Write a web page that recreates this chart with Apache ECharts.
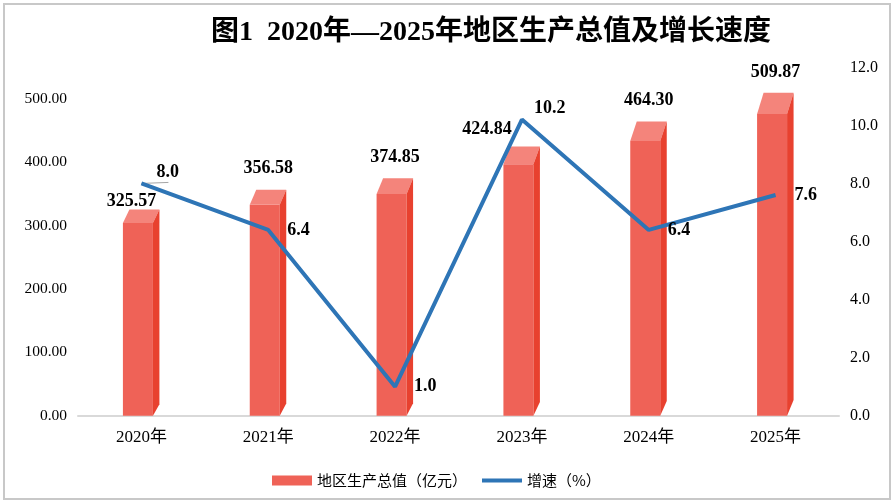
<!DOCTYPE html>
<html>
<head>
<meta charset="utf-8">
<script src="https://cdn.jsdelivr.net/npm/echarts@6/dist/echarts.min.js"></script>
<style>
html,body{margin:0;padding:0;background:#fff;}
#chart{width:895px;height:504px;}
</style>
</head>
<body>
<div id="chart"></div>
<script>
// ---- data ----
const categories = ['2020年', '2021年', '2022年', '2023年', '2024年', '2025年'];
const gdpValues = [325.57, 356.58, 374.85, 424.84, 464.30, 509.87];
const growthValues = [8.0, 6.4, 1.0, 10.2, 6.4, 7.6];
const leftTicks = [0, 100, 200, 300, 400, 500];
const rightTicks = [0, 2, 4, 6, 8, 10, 12];
const titleText = '图1  2020年—2025年地区生产总值及增长速度';
const gdpName = '地区生产总值（亿元）';
const growthName = '增速（%）';

// ---- styling ----
const SERIF = "'Liberation Serif','Noto Sans CJK SC',serif";
const FRONT = '#ef6257', TOP = '#f4847b', SIDE = '#e8412f';
const LINE = '#2e75b6';
const barLabelShift = [[-10, -8], [0, -21], [0, -21], [-35, -17], [0, -21], [0, -20]];

const chart = echarts.init(document.getElementById('chart'));

const option = {
  backgroundColor: '#fff',
  animation: false,
  graphic: [{
    type: 'rect', silent: true, z: -1,
    shape: { x: 4, y: 4, width: 886, height: 495 },
    style: { fill: 'none', stroke: '#c8c8c8', lineWidth: 2 }
  }],
  title: {
    text: titleText,
    left: 486, top: 14, textAlign: 'center',
    textStyle: { fontFamily: SERIF, fontWeight: 'bold', fontSize: 28, color: '#000' }
  },
  legend: {
    left: 267, top: 468,
    itemWidth: 40, itemHeight: 10, itemGap: 13,
    textStyle: { fontFamily: "'Noto Sans CJK SC',sans-serif", fontSize: 15, color: '#000' },
    data: [
      { name: gdpName, icon: 'rect', itemStyle: { color: FRONT } },
      { name: growthName, lineStyle: { width: 4, color: LINE } }
    ]
  },
  grid: { left: 78, right: 56, top: 67.3, bottom: 88.3, containLabel: false },
  xAxis: {
    type: 'category', data: categories,
    axisLine: { lineStyle: { color: '#d9d9d9', width: 2 } },
    axisTick: { show: false },
    axisLabel: { fontFamily: SERIF, fontSize: 17, color: '#000', margin: 13 }
  },
  yAxis: [{
    type: 'value', min: leftTicks[0], max: 550, interval: 100,
    axisLine: { show: false }, axisTick: { show: false }, splitLine: { show: false },
    axisLabel: { showMaxLabel: false, fontFamily: SERIF, fontSize: 15.5, color: '#000', margin: 11,
      formatter: v => v.toFixed(2) }
  }, {
    type: 'value', min: rightTicks[0], max: rightTicks[rightTicks.length - 1], interval: 2,
    axisLine: { show: false }, axisTick: { show: false }, splitLine: { show: false },
    axisLabel: { fontFamily: SERIF, fontSize: 16, color: '#000', margin: 11,
      formatter: v => v.toFixed(1) }
  }],
  series: [{
    name: gdpName,
    type: 'custom',
    yAxisIndex: 0,
    itemStyle: { color: FRONT },
    data: gdpValues.map((v, i) => [i, v]),
    encode: { x: 0, y: 1 },
    renderItem: function (params, api) {
      const idx = params.dataIndex;
      const v = api.value(1);
      const top = api.coord([api.value(0), v]);
      const base = api.coord([api.value(0), 0]);
      const h = base[1] - top[1];
      const dy = h * 0.066;
      const dx = 6.5;
      const botDy = 4 + h * 0.036;
      const c = top[0];
      const xl = c - 18.5, w = 30, xr = xl + w;
      const yf = top[1] + dy;
      const sh = barLabelShift[idx] || [0, -21];
      return {
        type: 'group',
        children: [
          { type: 'rect', shape: { x: xl, y: yf, width: w, height: base[1] - yf }, style: { fill: FRONT } },
          { type: 'polygon', shape: { points: [[xl, yf], [xr, yf], [xr + dx, top[1]], [xl + dx, top[1]]] }, style: { fill: TOP } },
          { type: 'polygon', shape: { points: [[xr, yf], [xr + dx, top[1]], [xr + dx, base[1] - botDy], [xr, base[1]]] }, style: { fill: SIDE } },
          { type: 'text', x: c + sh[0], y: top[1] + sh[1],
            style: { text: v.toFixed(2), align: 'center', verticalAlign: 'middle',
              fontFamily: SERIF, fontWeight: 'bold', fontSize: 18, fill: '#000' } }
        ]
      };
    }
  }, {
    name: growthName,
    type: 'line',
    yAxisIndex: 1,
    z: 5,
    symbol: 'circle',
    symbolSize: 2,
    showSymbol: true,
    lineStyle: { color: LINE, width: 4 },
    itemStyle: { color: 'rgba(0,0,0,0)', borderWidth: 0 },
    label: {
      show: true, position: 'right', distance: 18,
      fontFamily: SERIF, fontWeight: 'bold', fontSize: 18, color: '#000', opacity: 1,
      formatter: p => Number(p.value).toFixed(1)
    },
    data: growthValues.map((v, i) => {
      if (i === 0) return { value: v, label: { offset: [-4, -11] } };
      if (i === 3) return { value: v, label: { offset: [-7, -11] } };
      return v;
    })
  }]
};
chart.setOption(option);

// small gray leader line from the first growth point toward its label
const p0 = chart.convertToPixel({ xAxisIndex: 0, yAxisIndex: 1 }, [0, growthValues[0]]);
chart.setOption({
  graphic: [{
    type: 'rect', silent: true, z: -1,
    shape: { x: 4, y: 4, width: 886, height: 495 },
    style: { fill: 'none', stroke: '#c8c8c8', lineWidth: 2 }
  }, {
    type: 'line', silent: true, z: 4,
    shape: { x1: p0[0], y1: p0[1], x2: p0[0] + 27, y2: p0[1] - 1 },
    style: { stroke: '#a6a6a6', lineWidth: 1 }
  }]
});
</script>
</body>
</html>
